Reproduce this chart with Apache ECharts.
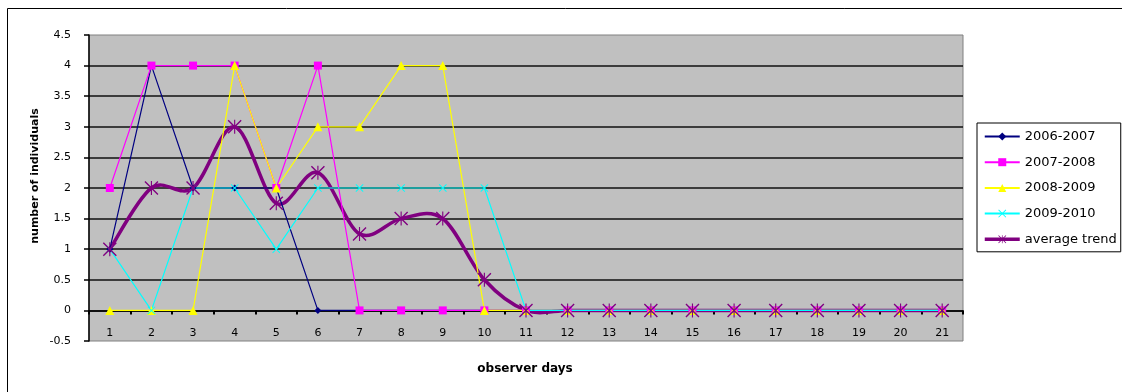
<!DOCTYPE html>
<html>
<head>
<meta charset="utf-8">
<script src="https://cdn.jsdelivr.net/npm/echarts@6/dist/echarts.min.js"></script>
<style>
  html, body { margin: 0; padding: 0; background: #fff; }
  #chart { width: 1122px; height: 392px; }
</style>
</head>
<body>
<div id="chart"></div>
<script>
// Observation days 1..21
const days = ['1','2','3','4','5','6','7','8','9','10','11','12','13','14','15','16','17','18','19','20','21'];

// Number of individuals seen per observer day, per season
const s2006 = [1, 4, 2, 2, 2, 0, 0, 0, 0, 0, 0, 0, 0, 0, 0, 0, 0, 0, 0, 0, 0];
const s2007 = [2, 4, 4, 4, 2, 4, 0, 0, 0, 0, 0, 0, 0, 0, 0, 0, 0, 0, 0, 0, 0];
const s2008 = [0, 0, 0, 4, 2, 3, 3, 4, 4, 0, 0, 0, 0, 0, 0, 0, 0, 0, 0, 0, 0];
const s2009 = [1, 0, 2, 2, 1, 2, 2, 2, 2, 2, 0, 0, 0, 0, 0, 0, 0, 0, 0, 0, 0];
const average = [1, 2, 2, 3, 1.75, 2.25, 1.25, 1.5, 1.5, 0.5, 0, 0, 0, 0, 0, 0, 0, 0, 0, 0, 0];

const seriesNames = ['2006-2007', '2007-2008', '2008-2009', '2009-2010', 'average trend'];

// Marker shapes: a thin "x" and an asterisk (x with a vertical bar)
const crossPath = 'path://M0 1.6L1.6 0L20 18.4L18.4 20Z M18.4 0L20 1.6L1.6 20L0 18.4Z';
const starPath = 'path://M0 1.4L1.4 0L20 18.6L18.6 20Z M18.6 0L20 1.4L1.4 20L0 18.6Z M9.2 0L10.8 0L10.8 20L9.2 20Z';

const FONT = 'DejaVu Sans';
const AVG_COLOR = '#800080';

const chart = echarts.init(document.getElementById('chart'), null, { renderer: 'canvas' });

function lineSeries(name, data, color, symbol, size, width) {
  return {
    name: name,
    type: 'line',
    data: data,
    symbol: symbol,
    symbolSize: size,
    showAllSymbol: true,
    animation: false,
    lineStyle: { color: color, width: width },
    itemStyle: { color: color },
    emphasis: { disabled: true }
  };
}

// Smoothed trend: Catmull-Rom segments between consecutive days,
// positioned through the axes with api.coord
function renderTrendSegment(params, api) {
  const i = params.dataIndex;
  const n = average.length;
  if (i >= n - 1) return null;
  const idx = [Math.max(i - 1, 0), i, i + 1, Math.min(i + 2, n - 1)];
  const p = idx.map(function (k) { return api.coord([k, average[k]]); });
  return {
    type: 'bezierCurve',
    shape: {
      x1: p[1][0], y1: p[1][1],
      x2: p[2][0], y2: p[2][1],
      cpx1: p[1][0] + (p[2][0] - p[0][0]) / 6,
      cpy1: p[1][1] + (p[2][1] - p[0][1]) / 6,
      cpx2: p[2][0] - (p[3][0] - p[1][0]) / 6,
      cpy2: p[2][1] - (p[3][1] - p[1][1]) / 6
    },
    style: { stroke: AVG_COLOR, lineWidth: 3.5, fill: null, lineCap: 'round', lineJoin: 'round' },
    silent: true
  };
}

// Markers of the trend; its own straight line is hidden, the curve above replaces it
const avgMarks = lineSeries(seriesNames[4], average, AVG_COLOR, starPath, 14, 3.5);
avgMarks.lineStyle.opacity = 0;

chart.setOption({
  animation: false,
  backgroundColor: '#ffffff',
  grid: {
    left: 89, right: 159, top: 35, bottom: 51,
    show: true,
    backgroundColor: '#C0C0C0',
    borderColor: '#808080',
    borderWidth: 1
  },
  graphic: [
    {
      type: 'rect',
      shape: { x: 7.5, y: 8.5, width: 1130, height: 400 },
      style: { fill: 'none', stroke: '#000', lineWidth: 1 },
      silent: true,
      z: 0
    },
    {
      type: 'text',
      x: 35, y: 176,
      rotation: Math.PI / 2,
      style: {
        text: 'number of individuals',
        font: 'bold 11px "' + FONT + '"',
        fill: '#000',
        align: 'center',
        verticalAlign: 'middle'
      },
      silent: true
    },
    {
      type: 'text',
      x: 525, y: 369,
      style: {
        text: 'observer days',
        font: 'bold 12px "' + FONT + '"',
        fill: '#000',
        align: 'center',
        verticalAlign: 'middle'
      },
      silent: true
    }
  ],
  legend: {
    orient: 'vertical',
    left: 977,
    top: 123,
    padding: [7, 4, 6, 6],
    itemWidth: 35,
    itemHeight: 10,
    itemGap: 12.7,
    borderColor: '#000',
    borderWidth: 1,
    backgroundColor: '#fff',
    textStyle: { fontFamily: FONT, fontSize: 13, color: '#000', lineHeight: 12 },
    data: seriesNames.slice(0, 4).concat([{
      name: seriesNames[4],
      lineStyle: { opacity: 1, color: AVG_COLOR, width: 3.5 }
    }])
  },
  xAxis: {
    type: 'category',
    data: days,
    boundaryGap: true,
    position: 'bottom',
    offset: -30.6,
    axisLine: { onZero: false, lineStyle: { color: '#000', width: 1.5 } },
    axisTick: { show: true, interval: 0, length: 4, alignWithLabel: false, lineStyle: { color: '#000', width: 2 } },
    axisLabel: { interval: 0, margin: 17, fontFamily: FONT, fontSize: 11, color: '#000' },
    splitLine: { show: false }
  },
  yAxis: {
    type: 'value',
    min: -0.5,
    max: 4.5,
    interval: 0.5,
    axisLine: { show: true, lineStyle: { color: '#000', width: 1.5 } },
    axisTick: { show: true, length: 5, lineStyle: { color: '#000', width: 1.5 } },
    axisLabel: { margin: 18, fontFamily: FONT, fontSize: 11, color: '#000' },
    splitLine: { show: true, showMinLine: false, showMaxLine: false, lineStyle: { color: '#111', width: 1.6 } }
  },
  series: [
    lineSeries(seriesNames[0], s2006, '#000080', 'diamond', 7, 1.2),
    lineSeries(seriesNames[1], s2007, '#FF00FF', 'rect', 8, 1.2),
    lineSeries(seriesNames[2], s2008, '#FFFF00', 'triangle', 9, 1.2),
    lineSeries(seriesNames[3], s2009, '#00FFFF', crossPath, 8, 1.2),
    {
      name: 'trend curve',
      type: 'custom',
      data: average.map(function (v, k) { return [k, v]; }),
      renderItem: renderTrendSegment,
      encode: { x: 0, y: 1 },
      animation: false,
      silent: true
    },
    avgMarks
  ]
});
</script>
</body>
</html>
